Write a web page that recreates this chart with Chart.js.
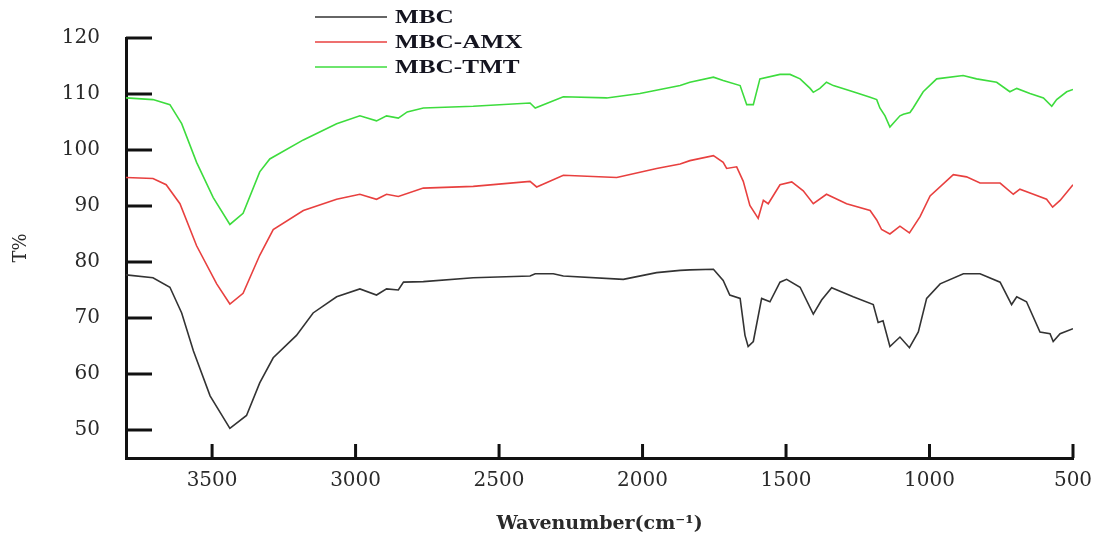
<!DOCTYPE html>
<html><head><meta charset="utf-8">
<script src="https://cdn.jsdelivr.net/npm/chart.js@4.4.1/dist/chart.umd.min.js"></script>
<style>html,body{margin:0;padding:0;background:#fff;overflow:hidden}</style>
</head><body>
<canvas id="c" width="1104" height="538"></canvas>
<script>
const seriesNames = ['MBC', 'MBC-AMX', 'MBC-TMT'];
const seriesColors = ['#333333', '#e8403f', '#3ddc3d'];

const mbcWn = [3800,3706,3647,3606,3565,3507,3438,3380,3334,3287,3206,3148,3066,2985,2927,2892,2851,2833,2764,2590,2392,2374,2311,2276,2067,1951,1869,1835,1753,1719,1696,1660,1643,1632,1614,1585,1556,1521,1498,1451,1405,1376,1341,1266,1196,1179,1162,1138,1103,1070,1039,1010,963,882,824,754,714,696,662,615,580,569,545,500];
const mbcT  = [77.7,77.2,75.5,70.9,64.1,56.1,50.3,52.6,58.4,62.9,66.9,70.9,73.8,75.2,74.1,75.2,75.0,76.4,76.5,77.2,77.5,77.9,77.9,77.5,76.9,78.1,78.5,78.6,78.7,76.7,74.1,73.5,66.9,64.9,65.8,73.5,72.9,76.4,76.9,75.5,70.7,73.2,75.4,73.8,72.4,69.2,69.5,64.9,66.6,64.7,67.5,73.5,76.1,77.9,77.9,76.4,72.4,73.8,72.9,67.5,67.2,65.8,67.2,68.1];

const amxWn = [3800,3706,3660,3612,3554,3484,3438,3392,3334,3287,3182,3066,2985,2927,2892,2851,2764,2590,2392,2369,2276,2090,1951,1869,1835,1753,1719,1707,1672,1649,1626,1597,1579,1562,1521,1480,1440,1405,1359,1289,1207,1184,1167,1138,1103,1070,1033,998,917,871,824,754,708,685,638,592,571,545,500];
const amxT  = [95.1,94.9,93.8,90.4,82.9,76.1,72.5,74.4,81.2,85.8,89.2,91.2,92.1,91.2,92.1,91.7,93.2,93.5,94.4,93.4,95.5,95.1,96.7,97.5,98.1,99.0,97.8,96.7,97.0,94.4,90.1,87.8,91.0,90.4,93.8,94.3,92.7,90.4,92.1,90.4,89.2,87.5,85.8,85.0,86.4,85.2,88.1,91.8,95.6,95.2,94.1,94.1,92.1,93.0,92.1,91.2,89.8,91.0,93.8];

const tmtWn = [3800,3706,3647,3606,3554,3496,3438,3392,3334,3299,3182,3066,2985,2927,2892,2851,2820,2764,2590,2392,2374,2276,2125,2009,1869,1835,1753,1719,1660,1637,1614,1591,1521,1486,1451,1416,1405,1382,1359,1335,1266,1207,1184,1173,1155,1138,1103,1091,1068,1057,1022,975,883,836,766,720,696,650,603,574,557,522,500];
const tmtT  = [109.3,109.0,108.1,104.7,97.8,91.5,86.7,88.7,96.1,98.4,101.8,104.7,106.1,105.2,106.1,105.7,106.8,107.5,107.8,108.4,107.5,109.5,109.3,110.1,111.5,112.1,113.0,112.4,111.5,108.1,108.1,112.7,113.5,113.5,112.7,111.0,110.3,111.0,112.1,111.5,110.4,109.4,109.0,107.5,106.1,104.1,106.1,106.4,106.7,107.5,110.4,112.7,113.3,112.7,112.1,110.4,111.0,110.1,109.3,107.8,109.0,110.4,110.8];

const xTicks = [3500, 3000, 2500, 2000, 1500, 1000, 500];
const yTicks = [50, 60, 70, 80, 90, 100, 110, 120];

const toPts = (wn, t) => wn.map((w, i) => ({x: w, y: t[i]}));
const seriesData = [toPts(mbcWn, mbcT), toPts(amxWn, amxT), toPts(tmtWn, tmtT)];

const inwardTicks = {
  id: 'inwardTicks',
  afterDraw(chart) {
    const {ctx, chartArea: a, scales: {x, y}} = chart;
    ctx.save();
    ctx.strokeStyle = '#111';
    ctx.lineWidth = 3;
    yTicks.forEach(v => {
      const py = y.getPixelForValue(v);
      ctx.beginPath(); ctx.moveTo(a.left, py); ctx.lineTo(a.left + 26, py); ctx.stroke();
    });
    xTicks.forEach(v => {
      const px = x.getPixelForValue(v);
      ctx.beginPath(); ctx.moveTo(px, a.bottom); ctx.lineTo(px, a.bottom - 14); ctx.stroke();
    });
    ctx.restore();
  }
};

const stackedLegend = {
  id: 'stackedLegend',
  afterDraw(chart) {
    const ctx = chart.ctx;
    ctx.save();
    chart.data.datasets.forEach((ds, i) => {
      const yy = 17 + i * 25;
      ctx.strokeStyle = ds.borderColor;
      ctx.globalAlpha = 0.75;
      ctx.lineWidth = 2;
      ctx.beginPath(); ctx.moveTo(315, yy); ctx.lineTo(387, yy); ctx.stroke();
      ctx.globalAlpha = 1;
      ctx.save();
      ctx.translate(395, yy + 1);
      ctx.scale(1.4, 1);
      ctx.font = 'bold 18px "Liberation Serif"';
      ctx.fillStyle = '#151520';
      ctx.textBaseline = 'middle';
      ctx.fillText(ds.label, 0, 0);
      ctx.restore();
    });
    ctx.restore();
  }
};

new Chart(document.getElementById('c'), {
  type: 'line',
  data: {
    datasets: seriesNames.map((n, i) => ({
      label: n,
      data: seriesData[i],
      borderColor: seriesColors[i],
      backgroundColor: seriesColors[i],
      borderWidth: 1.6,
      pointRadius: 0,
      tension: 0,
      fill: false
    }))
  },
  options: {
    responsive: false,
    animation: false,
    layout: {padding: {top: 21, right: 31, left: 0, bottom: 0}},
    plugins: {legend: {display: false}, tooltip: {enabled: false}},
    scales: {
      x: {
        type: 'linear',
        reverse: true,
        min: 500, max: 3800,
        afterBuildTicks: s => { s.ticks = xTicks.map(v => ({value: v})); },
        afterFit: s => { s.height = 80; },
        grid: {display: false, drawTicks: false},
        border: {display: true, color: '#111', width: 3},
        ticks: {font: {family: 'DejaVu Serif', size: 20}, color: '#2a2a2a', padding: 11, maxRotation: 0, callback: v => String(v)},
        title: {display: true, text: 'Wavenumber(cm⁻¹)', font: {family: 'DejaVu Serif', size: 19, weight: 'bold'}, color: '#2a2a2a', padding: {top: 0, bottom: 3}}
      },
      y: {
        min: 45, max: 120,
        afterBuildTicks: s => { s.ticks = yTicks.map(v => ({value: v})); },
        afterFit: s => { s.width = 126; },
        grid: {display: false, drawTicks: false},
        border: {display: true, color: '#111', width: 3},
        ticks: {font: {family: 'DejaVu Serif', size: 20}, color: '#2a2a2a', padding: 26, callback: v => String(v)},
        title: {display: true, text: 'T%', font: {family: 'DejaVu Serif', size: 18}, color: '#2a2a2a', padding: {top: 11, bottom: 0}}
      }
    }
  },
  plugins: [inwardTicks, stackedLegend]
});
</script>
</body></html>
